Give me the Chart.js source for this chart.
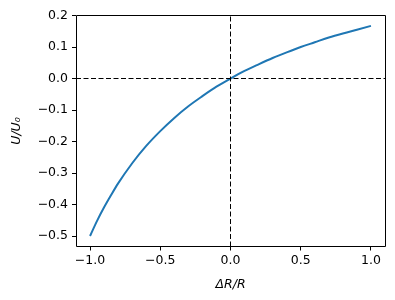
<!DOCTYPE html>
<html>
<head>
<meta charset="utf-8">
<script src="https://cdn.jsdelivr.net/npm/chart.js@4"></script>
<style>
  html, body { margin: 0; padding: 0; background: #fff; }
  #wrap { width: 395px; height: 300px; }
</style>
</head>
<body>
<div id="wrap"><canvas id="c" width="395" height="300"></canvas></div>
<script>
// values
const dR = [-1.0, -0.95, -0.9, -0.85, -0.8, -0.7, -0.6, -0.5, -0.4, -0.3, -0.2, -0.1, 0.0, 0.1, 0.2, 0.3, 0.4, 0.5, 0.6, 0.7, 0.8, 0.9, 1.0]
const U = [-0.5, -0.452, -0.409, -0.370, -0.333, -0.269, -0.214, -0.167, -0.125, -0.088, -0.056, -0.026, 0.0, 0.024, 0.045, 0.065, 0.083, 0.1, 0.115, 0.130, 0.143, 0.155, 0.167]

const xTicks = [-1.0, -0.5, 0.0, 0.5, 1.0]
const yTicks = [-0.5, -0.4, -0.3, -0.2, -0.1, 0.0, 0.1, 0.2]
const xLim = [-1.1, 1.1]
const yLim = [-0.5333, 0.2]

const fontFam = "'DejaVu Sans', sans-serif"
const fmt = v => v.toFixed(1).replace('-', '\u2212')

// axes frame, all four sides, snapped the same way chart.js snaps its borders
const frame = {
    id: 'frame',
    afterDraw(chart) {
        const a = chart.chartArea
        const ctx = chart.ctx
        const snap = v => Math.round(v - 0.5) + 0.5
        const l = snap(a.left), r = snap(a.right), t = snap(a.top), b = snap(a.bottom)
        ctx.save()
        ctx.strokeStyle = '#000'
        ctx.lineWidth = 1
        ctx.beginPath()
        ctx.moveTo(l, t); ctx.lineTo(r, t); ctx.lineTo(r, b); ctx.lineTo(l, b); ctx.closePath()
        ctx.stroke()
        ctx.restore()
    }
}

new Chart(document.getElementById('c'), {
    type: 'line',
    data: {
        datasets: [
            {
                label: 'h0',
                data: [{x: xLim[0], y: 0}, {x: xLim[1], y: 0}],
                borderColor: '#000',
                borderWidth: 1,
                borderDash: [5, 2.5],
                pointRadius: 0
            },
            {
                label: 'v0',
                data: [{x: 0, y: yLim[0]}, {x: 0, y: yLim[1]}],
                borderColor: '#000',
                borderWidth: 1,
                borderDash: [5, 2.5],
                pointRadius: 0
            },
            {
                label: 'U/U0',
                data: dR.map((x, i) => ({x: x, y: U[i]})),
                borderColor: '#1f77b4',
                borderWidth: 2,
                pointRadius: 0,
                cubicInterpolationMode: 'monotone'
            }
        ]
    },
    options: {
        responsive: false,
        animation: false,
        layout: { padding: { left: 0, right: 10, top: 15.5, bottom: 0 } },
        plugins: { legend: { display: false }, tooltip: { enabled: false } },
        scales: {
            x: {
                type: 'linear',
                min: xLim[0],
                max: xLim[1],
                afterBuildTicks: s => { s.ticks = xTicks.map(v => ({value: v})) },
                afterFit: s => { s.height = 53.5 },
                grid: { drawOnChartArea: false, drawTicks: true, tickLength: 4, color: '#000' },
                border: { display: false },
                ticks: {
                    color: '#000',
                    padding: 3,
                    maxRotation: 0,
                    font: { family: fontFam, size: 12.5 },
                    callback: v => fmt(v)
                },
                title: {
                    display: true,
                    text: '\u0394R/R',
                    color: '#000',
                    font: { family: fontFam, size: 12.5, style: 'italic' },
                    padding: { top: 0, bottom: 8 }
                }
            },
            y: {
                type: 'linear',
                min: yLim[0],
                max: yLim[1],
                afterBuildTicks: s => { s.ticks = yTicks.map(v => ({value: v})) },
                afterFit: s => { s.width = 76 },
                grid: { drawOnChartArea: false, drawTicks: true, tickLength: 4, color: '#000' },
                border: { display: false },
                ticks: {
                    color: '#000',
                    padding: 4,
                    font: { family: fontFam, size: 12.5 },
                    callback: v => fmt(v)
                },
                title: {
                    display: true,
                    text: 'U/U\u2080',
                    color: '#000',
                    font: { family: fontFam, size: 12.5, style: 'italic' },
                    padding: { top: 9, bottom: 0 }
                }
            }
        }
    },
    plugins: [frame]
});
</script>
</body>
</html>
